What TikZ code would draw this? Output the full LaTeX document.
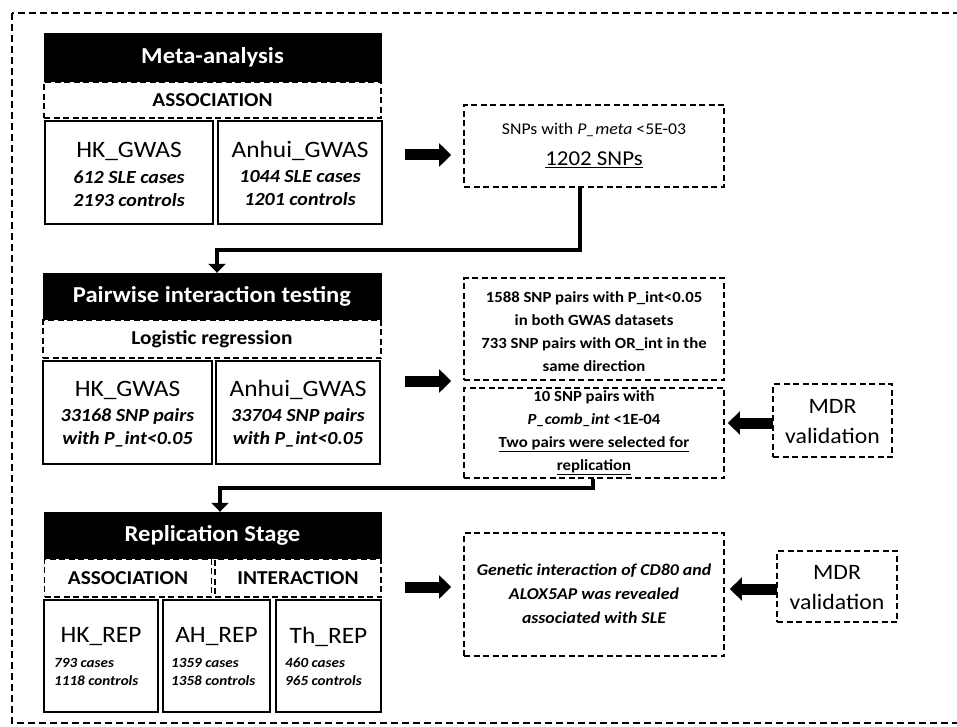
\documentclass[tikz,border=0pt]{standalone}
\usepackage{fontspec}
\setmainfont{Carlito}[FakeStretch=1.08]
\usetikzlibrary{arrows.meta}
\begin{document}
\begin{tikzpicture}[x=1pt,y=-1pt,
  hdr/.style={fill=black, draw=black, text=white, font=\bfseries\fontsize{22.8}{26}\selectfont, inner sep=0pt},
  dsh/.style={draw, line width=1.8pt, dash pattern=on 6pt off 3.5pt, inner sep=0pt},
  rowbox/.style={dsh, font=\bfseries\fontsize{19.7}{22}\selectfont},
  dbox/.style={draw, line width=2.5pt, inner sep=0pt},
  ttl/.style={font=\fontsize{23.5}{26}\selectfont, inner sep=0pt},
  det/.style={font=\bfseries\itshape\fontsize{18.5}{23}\selectfont, align=center, inner sep=0pt},
  sdet/.style={font=\bfseries\itshape\fontsize{14}{18}\selectfont, align=left, inner sep=0pt, anchor=west},
  rtxt/.style={font=\bfseries\fontsize{15.5}{23}\selectfont, align=center, inner sep=0pt},
  mdr/.style={font=\fontsize{22}{30}\selectfont, align=center, inner sep=0pt},
  blk/.style={line width=11pt, -{Triangle[width=23pt,length=12pt]}},
  conn/.style={line width=4.5pt, -{Triangle[width=17pt,length=9pt]}},
]
\useasboundingbox (0,0) rectangle (957,727);
\draw[line width=2pt, dash pattern=on 7pt off 4pt] (12,13) rectangle (975,723);

% ---- Meta-analysis block
\node[hdr, minimum width=337, minimum height=48] (meta) at (212.5,57) {Meta-analysis};
\node[rowbox, minimum width=337, minimum height=36] (assoc1) at (212.5,100) {ASSOCIATION};
\node[dbox, minimum width=168, minimum height=103] (hk1) at (129,172.5) {};
\node[ttl] (hk1t) at (129,151) {HK\_GWAS};
\node[det] (hk1d) at (129,188.5) {612 SLE cases\\2193 controls};
\node[dbox, minimum width=164, minimum height=103] (ah1) at (300,172.5) {};
\node[ttl] (ah1t) at (300,151) {Anhui\_GWAS};
\node[det] (ah1d) at (300,188.5) {1044 SLE cases\\1201 controls};

\node[dsh, minimum width=260, minimum height=82] (snps) at (594,146) {};
\node[font=\fontsize{16.4}{18}\selectfont, inner sep=0pt] (snpst1) at (594,130) {SNPs with \textit{P\_meta} <5E-03};
\node[font=\fontsize{21.2}{24}\selectfont, inner sep=0pt] (snpst2) at (594,160) {\underline{1202 SNPs}};

% ---- Pairwise block
\node[hdr, minimum width=338, minimum height=46] (pair) at (212,296) {Pairwise interaction testing};
\node[rowbox, minimum width=338, minimum height=38] (logi) at (212,339) {Logistic regression};
\node[dbox, minimum width=169, minimum height=103] (hk2) at (127.5,412.5) {};
\node[ttl] (hk2t) at (127.5,390) {HK\_GWAS};
\node[det] (hk2d) at (127.5,427.5) {33168 SNP pairs\\with P\_int<0.05};
\node[dbox, minimum width=164, minimum height=103] (ah2) at (298,412.5) {};
\node[ttl] (ah2t) at (298,390) {Anhui\_GWAS};
\node[det] (ah2d) at (298,427.5) {33704 SNP pairs\\with P\_int<0.05};

\node[dsh, minimum width=260, minimum height=102] (b1588) at (594,329) {};
\node[rtxt] (b1588t) at (594,331.5) {1588 SNP pairs with P\_int<0.05\\in both GWAS datasets\\733 SNP pairs with OR\_int in the\\same direction};
\node[dsh, minimum width=260, minimum height=90] (b10) at (594,433) {};
\node[rtxt] (b10t) at (594,433) {10 SNP pairs with\\\textit{P\_comb\_int} <1E-04\\\underline{Two pairs were selected for}\\\underline{replication}};
\node[dsh, minimum width=119, minimum height=73] (mdr1) at (832.5,420.5) {};
\node[mdr] (mdr1t) at (832.5,422) {MDR\\validation};

% ---- Replication block
\node[hdr, minimum width=337, minimum height=46] (rep) at (212.5,535) {Replication Stage};
\node[rowbox, minimum width=167, minimum height=38] (assoc2) at (128,578) {ASSOCIATION};
\node[rowbox, minimum width=166, minimum height=38] (inter) at (298,578) {INTERACTION};
\node[dbox, minimum width=114, minimum height=112] (hkrep) at (101,656) {};
\node[ttl] (hkrept) at (101,637) {HK\_REP};
\node[sdet] (hkrepd) at (54,672) {793 cases\\1118 controls};
\node[dbox, minimum width=107, minimum height=112] (ahrep) at (216.5,656) {};
\node[ttl] (ahrept) at (216.5,637) {AH\_REP};
\node[sdet] (ahrepd) at (171,672) {1359 cases\\1358 controls};
\node[dbox, minimum width=105, minimum height=112] (threp) at (328.5,656) {};
\node[ttl] (thrept) at (328.5,637) {Th\_REP};
\node[sdet] (threpd) at (285,672) {460 cases\\965 controls};

\node[dsh, minimum width=260, minimum height=123] (gen) at (594,594.5) {};
\node[font=\bfseries\itshape\fontsize{16.5}{24}\selectfont, align=center, inner sep=0pt] (gent) at (594,594) {Genetic interaction of CD80 and\\ALOX5AP was revealed\\associated with SLE};
\node[dsh, minimum width=120, minimum height=71] (mdr2) at (837,586.5) {};
\node[mdr] (mdr2t) at (837,588) {MDR\\validation};

% ---- arrows
\coordinate (a1) at (405,155);
\coordinate (a2) at (405,381);
\coordinate (a3) at (405,587);
\coordinate (m1) at (773,423);
\coordinate (m2) at (777,589);
\draw[blk, shorten >=12pt] (a1) -- (a1 -| snps.west);
\draw[blk, shorten >=12pt] (a2) -- (a2 -| b1588.west);
\draw[blk, shorten >=12pt] (a3) -- (a3 -| gen.west);
\draw[blk, shorten >=3pt] (m1) -- (m1 -| b10.east);
\draw[blk, shorten >=5pt] (m2) -- (m2 -| gen.east);

\coordinate (c1) at (217,250);
\coordinate (c2) at (220,488);
\draw[conn] ([xshift=-14pt]snps.south) |- (c1) -- (c1 |- pair.north);
\draw[conn] ([xshift=-1pt]b10.south) |- (c2) -- (c2 |- rep.north);
\end{tikzpicture}
\end{document}
